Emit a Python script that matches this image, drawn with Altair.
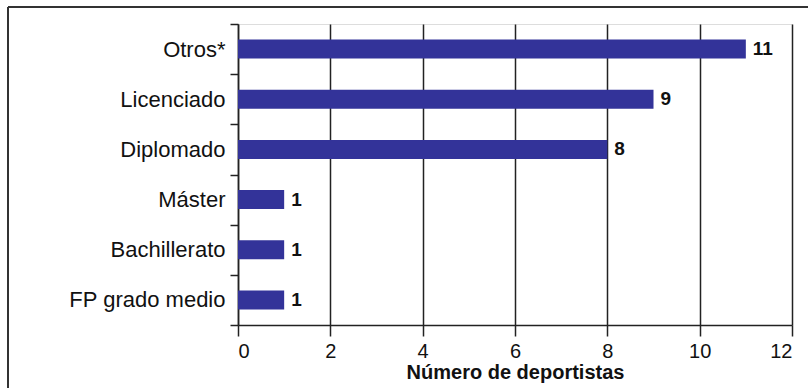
import altair as alt
import pandas as pd

categories = ["Otros*", "Licenciado", "Diplomado", "Máster", "Bachillerato", "FP grado medio"]
values = [11, 9, 8, 1, 1, 1]

df = pd.DataFrame({"cat": categories, "n": values})

FONT = "Liberation Sans"

y_enc = alt.Y("cat:N", sort=categories, title=None,
              scale=alt.Scale(paddingInner=0, paddingOuter=0),
              axis=alt.Axis(tickBand="extent", labelFontSize=22, labelFont=FONT,
                            labelColor="#111111", labelPadding=5, tickSize=8,
                            tickColor="#222222", domainColor="#222222",
                            tickWidth=1.5, domainWidth=1.5, grid=False))
x_enc = alt.X("n:Q", title="Número de deportistas",
              scale=alt.Scale(domain=[0, 12], nice=False),
              axis=alt.Axis(values=list(range(0, 13, 2)), tickSize=11, labelFontSize=20,
                            labelFont=FONT, labelColor="#111111", labelPadding=5,
                            titleFont=FONT, titleFontSize=20, titleFontWeight="bold",
                            titleColor="#111111", titlePadding=1,
                            grid=True, gridColor="#222222", gridWidth=1.5,
                            tickColor="#222222", domainColor="#222222",
                            tickWidth=1.5, domainWidth=1.5))

bars = alt.Chart(df).mark_bar(color="#333399", size=19).encode(x=x_enc, y=y_enc)
labels = alt.Chart(df).mark_text(align="left", baseline="middle", dx=7, fontSize=19,
                                 fontWeight="bold", font=FONT, color="#111111").encode(
    x="n:Q", y=alt.Y("cat:N", sort=categories), text="n:Q")

frame_top = alt.Chart(df).mark_rule(color="#333333", strokeWidth=2).encode(
    x=alt.value(-230), x2=alt.value(570), y=alt.value(-17))
frame_left = alt.Chart(df).mark_rule(color="#333333", strokeWidth=2).encode(
    x=alt.value(-230), y=alt.value(-17), y2=alt.value(370))

chart = alt.layer(bars, labels, frame_top, frame_left).properties(
    width=554, height=301,
    padding={"left": 238, "top": 24, "right": 16, "bottom": 63},
    autosize=alt.AutoSizeParams(type="none"),
).configure_view(stroke=None).configure(background="white")

chart.save("out.html", embed_options={"renderer": "svg", "actions": False})
